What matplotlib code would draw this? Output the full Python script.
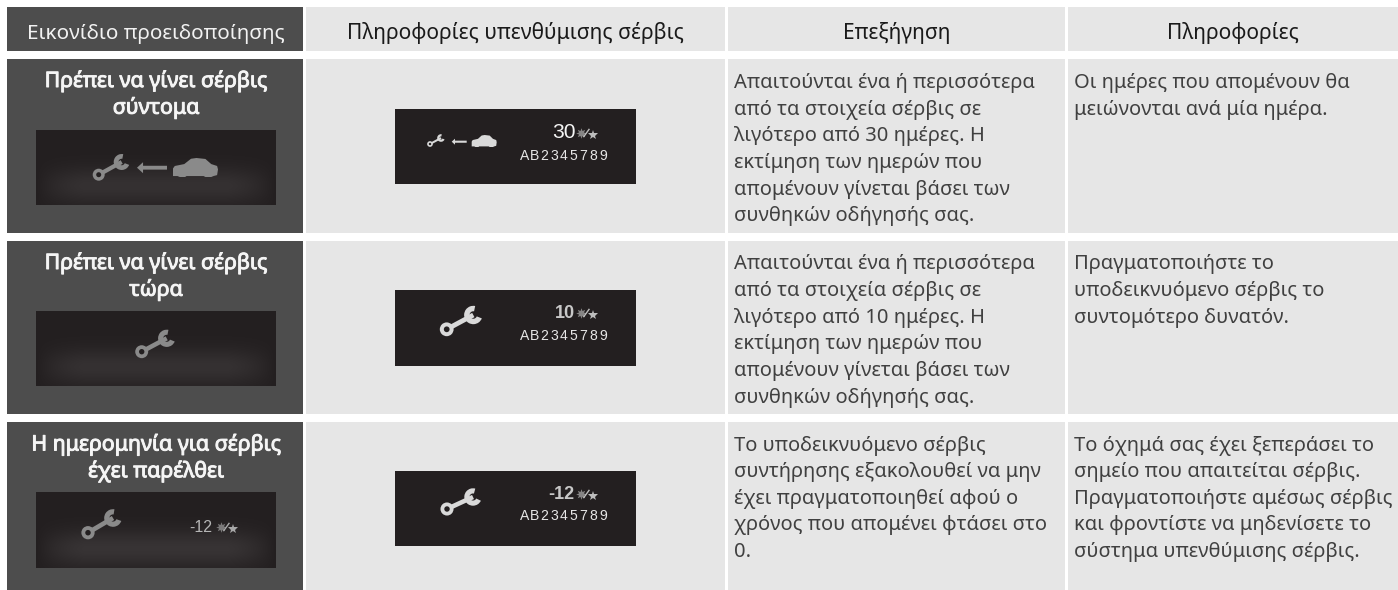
import numpy as np
import matplotlib
matplotlib.use("Agg")
import matplotlib.pyplot as plt
import matplotlib.patheffects as pe
from matplotlib.patches import Rectangle, Circle, Wedge, Polygon

W, H = 1398, 590
FONT = "Noto Sans"

headers = ["Εικονίδιο προειδοποίησης", "Πληροφορίες υπενθύμισης σέρβις", "Επεξήγηση", "Πληροφορίες"]
titles = [["Πρέπει να γίνει σέρβις", "σύντομα"],
          ["Πρέπει να γίνει σέρβις", "τώρα"],
          ["Η ημερομηνία για σέρβις", "έχει παρέλθει"]]
explanations = [
    ["Απαιτούνται ένα ή περισσότερα", "από τα στοιχεία σέρβις σε", "λιγότερο από 30 ημέρες. Η",
     "εκτίμηση των ημερών που", "απομένουν γίνεται βάσει των", "συνθηκών οδήγησής σας."],
    ["Απαιτούνται ένα ή περισσότερα", "από τα στοιχεία σέρβις σε", "λιγότερο από 10 ημέρες. Η",
     "εκτίμηση των ημερών που", "απομένουν γίνεται βάσει των", "συνθηκών οδήγησής σας."],
    ["Το υποδεικνυόμενο σέρβις", "συντήρησης εξακολουθεί να μην", "έχει πραγματοποιηθεί αφού ο",
     "χρόνος που απομένει φτάσει στο", "0."],
]
infos = [
    ["Οι ημέρες που απομένουν θα", "μειώνονται ανά μία ημέρα."],
    ["Πραγματοποιήστε το", "υποδεικνυόμενο σέρβις το", "συντομότερο δυνατόν."],
    ["Το όχημά σας έχει ξεπεράσει το", "σημείο που απαιτείται σέρβις.", "Πραγματοποιήστε αμέσως σέρβις",
     "και φροντίστε να μηδενίσετε το", "σύστημα υπενθύμισης σέρβις."],
]
day_labels = ["30", "10", "-12"]
code_chars = list("AB2345789")

DARK, LIGHT, BOX, TXT = "#4d4d4d", "#e6e6e6", "#231f20", "#3a3a3a"
cols = [(7, 303), (306, 725), (728, 1065), (1068, 1398)]
rows = [(7, 51), (59, 233), (241, 414), (422, 590)]
px = 0.72

fig = plt.figure(figsize=(W / 100, H / 100), dpi=100, facecolor="white")
ax = fig.add_axes([0, 0, 1, 1])
ax.axis("off")

for ci, (x0, x1) in enumerate(cols):
    for (y0, y1) in rows:
        ax.add_patch(Rectangle((x0, y0), x1 - x0, y1 - y0, fc=DARK if ci == 0 else LIGHT, ec="none"))


def t(x, y, s, size, color=TXT, ha="left", weight="normal", family=FONT, **kw):
    return ax.text(x, y, s, fontsize=size * px, color=color, ha=ha, va="baseline",
                   weight=weight, family=family, **kw)


def wrench(ring, head, color):
    (x0, y0), (x1, y1) = ring, head
    L = np.hypot(x1 - x0, y1 - y0)
    ang = np.degrees(np.arctan2(y1 - y0, x1 - x0))
    r = L * 0.19
    ax.plot([x0, x1], [y0, y1], color=color, lw=L * 0.16 * px, solid_capstyle="butt", zorder=4)
    ax.add_patch(Wedge((x1, y1), r * 1.6, ang + 50, ang - 50, width=r * 0.95, fc=color, ec="none", zorder=4))
    ax.add_patch(Circle((x0, y0), r * 1.2, fc=color, ec="none", zorder=4))
    ax.add_patch(Circle((x0, y0), r * 0.5, fc=BOX, ec="none", zorder=5))


def arrow(x0, x1, y, h, color):
    ax.add_patch(Polygon([(x0, y), (x0 + h * 1.1, y - h), (x0 + h * 1.1, y - h * 0.35), (x1, y - h * 0.35),
                          (x1, y + h * 0.35), (x0 + h * 1.1, y + h * 0.35), (x0 + h * 1.1, y + h)],
                         fc=color, ec="none", zorder=4))


def car(x0, x1, y0, y1, color):
    w, h = x1 - x0, y1 - y0
    shape = [(0, .95), (0, .55), (.04, .42), (.25, .32), (.40, .04), (.52, 0), (.72, .05), (.85, .32),
             (.98, .42), (1, .6), (.98, .9), (.9, .95), (.85, 1), (.72, 1), (.68, .95), (.3, .95), (.27, 1),
             (.15, 1), (.1, .95)]
    ax.add_patch(Polygon([(x0 + a * w, y0 + b * h) for a, b in shape], fc=color, ec="none", zorder=4,
                         joinstyle="round"))


def gear(x, y, s, color):
    ax.plot([x], [y], marker=(8, 1, 0), ms=s * .95, color=color, mew=0, zorder=4, alpha=.65)
    ax.plot([x + s * .35, x + s * 1.0], [y + s * .45, y - s * .45], color=color, lw=1, zorder=5)
    ax.plot([x + s * 1.45], [y + s * .2], marker="*", ms=s * .95, color=color, mew=0, zorder=4)


def glow_box(x0, x1, y0, y1, strength):
    n, m = 60, 160
    yy, xx = np.mgrid[0:1:n * 1j, -1:1:m * 1j]
    g = np.exp(-(yy - .75) ** 2 / .06) * np.clip(1.15 - np.abs(xx) ** 4 * 1.15, 0, 1) * strength
    base = np.array([0x23, 0x1f, 0x20]) / 255
    img = np.clip(base[None, None, :] + g[..., None], 0, 1)
    ax.imshow(img, extent=(x0, x1, y1, y0), aspect="auto", interpolation="bilinear", zorder=2)


# Header row
for ci, label in enumerate(headers):
    x0, x1 = cols[ci]
    t((x0 + x1) / 2 + (0.5 if ci == 0 else 0), 39, label, 20.8 if ci == 0 else 21,
      color="#f2f2f2" if ci == 0 else "#1a1a1a", ha="center")

# Body text
title_base = [87, 269, 450.5]
body_base = [88, 269.3, 450.5]
LEAD = 26.65
for r in range(3):
    for i, s in enumerate(titles[r]):
        tx = t(156, title_base[r] + i * 26.7, s, 21.3, color="#f5f5f5", ha="center")
        tx.set_path_effects([pe.withStroke(linewidth=0.7, foreground="#f5f5f5")])
    for i, s in enumerate(explanations[r]):
        t(734, body_base[r] + i * LEAD, s, 20.1, color="#404040")
    for i, s in enumerate(infos[r]):
        t(1074, body_base[r] + i * LEAD, s, 20.1, color="#404040")

# Left warning icons
ICON1 = "#8a8a8a"
left_boxes = [(130, 205), (311, 386), (492, 568)]
for (y0, y1), st in zip(left_boxes, [.07, .07, .08]):
    glow_box(36, 276, y0, y1, st)
wrench((98.7, 174.7), (121.7, 162), ICON1)
arrow(137, 167, 167.7, 5.5, ICON1)
car(173, 218, 158, 177, ICON1)
wrench((141.7, 351.7), (166.7, 338.3), ICON1)
wrench((88, 532.7), (113, 518), ICON1)
t(189, 532, day_labels[2], 16, color="#b5b5b5", family="Liberation Sans")
gear(221, 527, 8, "#a8a8a8")

# Middle display icons
mid_boxes = [(109, 184), (290, 366), (471, 546)]
ICON2 = "#d9d9d9"
for y0, y1 in mid_boxes:
    ax.add_patch(Rectangle((395, y0), 241, y1 - y0, fc=BOX, ec="none", zorder=2))
wrench((430, 144), (441, 138), ICON2)
arrow(451.7, 466.7, 141.7, 3, ICON2)
car(471.7, 496.7, 135, 147, ICON2)
wrench((446.7, 329.3), (473.3, 315), ICON2)
wrench((447, 509), (473, 497), ICON2)
for r, (yb, cx, size, col) in enumerate([(138, 564, 21, "#f5f5f5"), (318, 565, 18, "#c8c8c8"), (499, 561, 18, "#c8c8c8")]):
    t(cx, yb, day_labels[r], size, color=col, ha="center", family="Liberation Sans",
      weight="normal" if r == 0 else "bold")
    gear(581, yb - 5, 8, "#bdbdbd")
    for i, ch in enumerate(code_chars):
        t(524.5 + i * 9.85, yb + 21.5, ch, 14, color="#e6e6e6", ha="center", family="Liberation Sans")

ax.set_xlim(0, W)
ax.set_ylim(H, 0)
fig.savefig("out.png", dpi=100, facecolor="white")
